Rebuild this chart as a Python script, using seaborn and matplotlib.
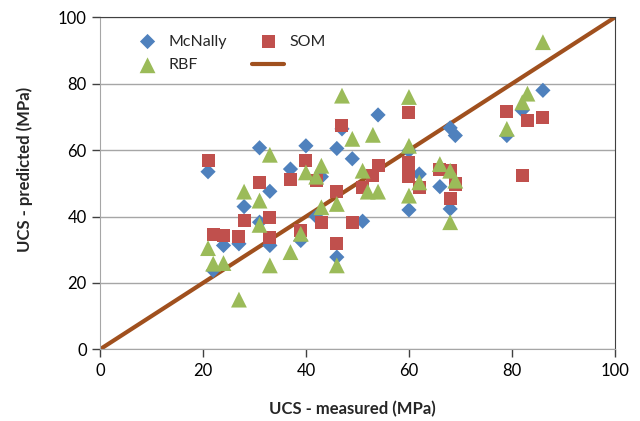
import seaborn as sns
import matplotlib.pyplot as plt
import pandas as pd

sns.set_style("white")
plt.rcParams["font.family"] = ["Lato", "DejaVu Sans"]

# measured vs predicted UCS (MPa)
mcnally_x = [21, 22, 24, 27, 28, 31, 31, 33, 33, 37, 39, 40, 42, 43, 46, 46, 47, 49,
             51, 54, 60, 60, 62, 66, 68, 69, 68, 79, 82, 86]
mcnally_y = [53.5, 23.8, 31.3, 31.8, 43, 60.7, 38.3, 31.3, 47.6, 54.3, 32.8, 61.3, 40, 52,
             60.5, 27.8, 66.4, 57.4, 38.6, 70.6, 59.8, 42, 52.8, 49, 66.7, 64.4, 42.3,
             64.4, 72, 78]

som_x = [21, 22, 24, 27, 28, 31, 33, 33, 37, 39, 40, 42, 43, 46, 46, 47, 49, 51, 53,
         54, 60, 60, 60, 60, 62, 66, 68, 68, 69, 79, 82, 83, 86]
som_y = [57, 34.6, 34.3, 34, 38.8, 50.3, 39.6, 33.8, 51.3, 35.8, 56.8, 50.8, 38.3, 31.8,
         47.5, 67.4, 38.3, 48.8, 52.5, 55.3, 71.4, 56.3, 54, 52, 48.8, 54.3, 54, 45.3,
         49.8, 71.7, 52.3, 69, 69.7]

rbf_x = [21, 22, 24, 27, 28, 31, 31, 33, 33, 37, 39, 40, 42, 43, 43, 46, 46, 47, 49,
         51, 52, 53, 54, 60, 60, 60, 62, 66, 68, 68, 69, 79, 82, 83, 86]
rbf_y = [30.5, 25.8, 26, 15, 47.5, 44.8, 37.5, 58.6, 25.3, 29.3, 34.8, 53.3, 52, 55.3,
         42.8, 43.8, 25.3, 76.4, 63.4, 53.8, 47.5, 64.6, 47.5, 76, 61.3, 46.3, 50.3,
         55.8, 53.8, 38.3, 50.8, 66.4, 74.4, 77, 92.5]

ref_line = [0, 100]

mc = pd.DataFrame({"x": mcnally_x, "y": mcnally_y})
som = pd.DataFrame({"x": som_x, "y": som_y})
rbf = pd.DataFrame({"x": rbf_x, "y": rbf_y})

fig = plt.figure(figsize=(6.4, 4.21), dpi=100)
ax = fig.add_axes([0.156, 0.170, 0.805, 0.789])

# 1:1 line
sns.lineplot(x=ref_line, y=ref_line, ax=ax, color="#A0501E", linewidth=3, zorder=2,
             label=" ")
sns.scatterplot(data=mc, x="x", y="y", ax=ax, marker="D", s=60, color="#4F81BD",
                edgecolor="none", zorder=3, label="McNally")
sns.scatterplot(data=som, x="x", y="y", ax=ax, marker="s", s=88, color="#C0504D",
                edgecolor="none", zorder=4, label="SOM")
sns.scatterplot(data=rbf, x="x", y="y", ax=ax, marker="^", s=130, color="#9BBB59",
                edgecolor="none", zorder=5, label="RBF")

ax.set_xlim(0, 100)
ax.set_ylim(0, 100)
ax.set_xticks(range(0, 101, 20))
ax.set_yticks(range(0, 101, 20))
ax.yaxis.grid(True, color="#A6A6A6", linewidth=1)
ax.xaxis.grid(False)
ax.set_axisbelow(True)
ax.tick_params(axis="both", labelsize=12, colors="#404040", length=6, width=1,
               direction="out", bottom=True, left=True)
ax.tick_params(axis="both", labelcolor="black")
for side in ["left", "bottom"]:
    ax.spines[side].set_color("#A6A6A6")
for side in ["top", "right"]:
    ax.spines[side].set_color("#404040")

ax.set_xlabel("UCS - measured (MPa)", fontsize=12, fontweight="bold")
ax.set_ylabel("UCS - predicted (MPa)", fontsize=12, fontweight="bold")
ax.xaxis.set_label_coords(0.49, -0.155)
ax.yaxis.set_label_coords(-0.130, 0.543)

# legend: McNally / RBF in the first column, SOM / line in the second
h, l = ax.get_legend_handles_labels()
lut = dict(zip(l, h))
order = ["McNally", "RBF", "SOM", " "]
ax.legend([lut[k] for k in order], ["McNally", "RBF", "SOM", ""], ncol=2,
          frameon=False, fontsize=11.5, loc="upper left", bbox_to_anchor=(0.0616, 0.948),
          borderpad=0, borderaxespad=0, columnspacing=1.6, handletextpad=0.3,
          labelspacing=0.6, handlelength=2.0)

fig.savefig("out.png", dpi=100)
plt.close(fig)
